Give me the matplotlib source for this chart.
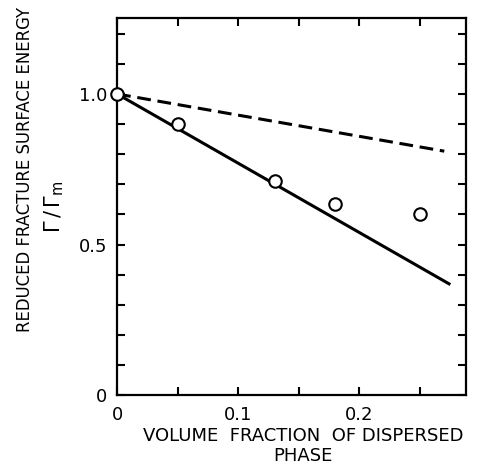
import matplotlib
matplotlib.use("Agg")
import matplotlib.pyplot as plt
from matplotlib.ticker import MultipleLocator, FixedLocator

plt.rcParams['font.family'] = ['DejaVu Sans']

# Data
x_points = [0.0, 0.05, 0.13, 0.18, 0.25]
y_points = [1.0, 0.90, 0.71, 0.635, 0.60]
solid_x = [0.0, 0.275]
solid_y = [1.0, 0.367]
dashed_x = [0.0, 0.27]
dashed_y = [1.0, 0.81]
xtick_vals = [0, 0.1, 0.2]
xtick_labels = ["0", "0.1", "0.2"]
ytick_vals = [0, 0.5, 1.0]
ytick_labels = ["0", "0.5", "1.0"]

fig = plt.figure(figsize=(4.8, 4.76), dpi=100)
ax = fig.add_axes([0.244, 0.170, 0.727, 0.792])

ax.plot(solid_x, solid_y, color='black', lw=2.2, solid_capstyle='butt', zorder=2)
ax.plot(dashed_x, dashed_y, color='black', lw=2.2, dashes=(4.5, 2.2), zorder=2)
ax.plot(x_points, y_points, linestyle='none', marker='o', markersize=9,
        markerfacecolor='white', markeredgecolor='black', markeredgewidth=1.5,
        zorder=4, clip_on=False)

ax.set_xlim(0, 0.288)
ax.set_ylim(0, 1.252)

ax.xaxis.set_major_locator(FixedLocator(xtick_vals))
ax.set_xticklabels(xtick_labels)
ax.xaxis.set_minor_locator(MultipleLocator(0.05))
ax.yaxis.set_major_locator(FixedLocator(ytick_vals))
ax.set_yticklabels(ytick_labels)
ax.yaxis.set_minor_locator(MultipleLocator(0.1))

ax.tick_params(which='both', direction='in', top=True, right=True,
               length=6, width=1.5)
ax.tick_params(which='major', labelsize=13, pad=8)
ax.tick_params(axis='y', which='major', pad=7)

for s in ax.spines.values():
    s.set_linewidth(1.6)

fig.text(0.052, 1 - 169/476, "REDUCED FRACTURE SURFACE ENERGY", rotation=90,
         ha='center', va='center', fontsize=11.9)
fig.text(0.112, 1 - 207/476, r"$\Gamma\,/\,\Gamma_{\rm m}$", rotation=90,
         ha='center', va='center', fontsize=15)
fig.text(303/480, 1 - 446/476, "VOLUME  FRACTION  OF DISPERSED\nPHASE",
         ha='center', va='center', fontsize=13, linespacing=1.2)

fig.savefig("out.png", dpi=100)
